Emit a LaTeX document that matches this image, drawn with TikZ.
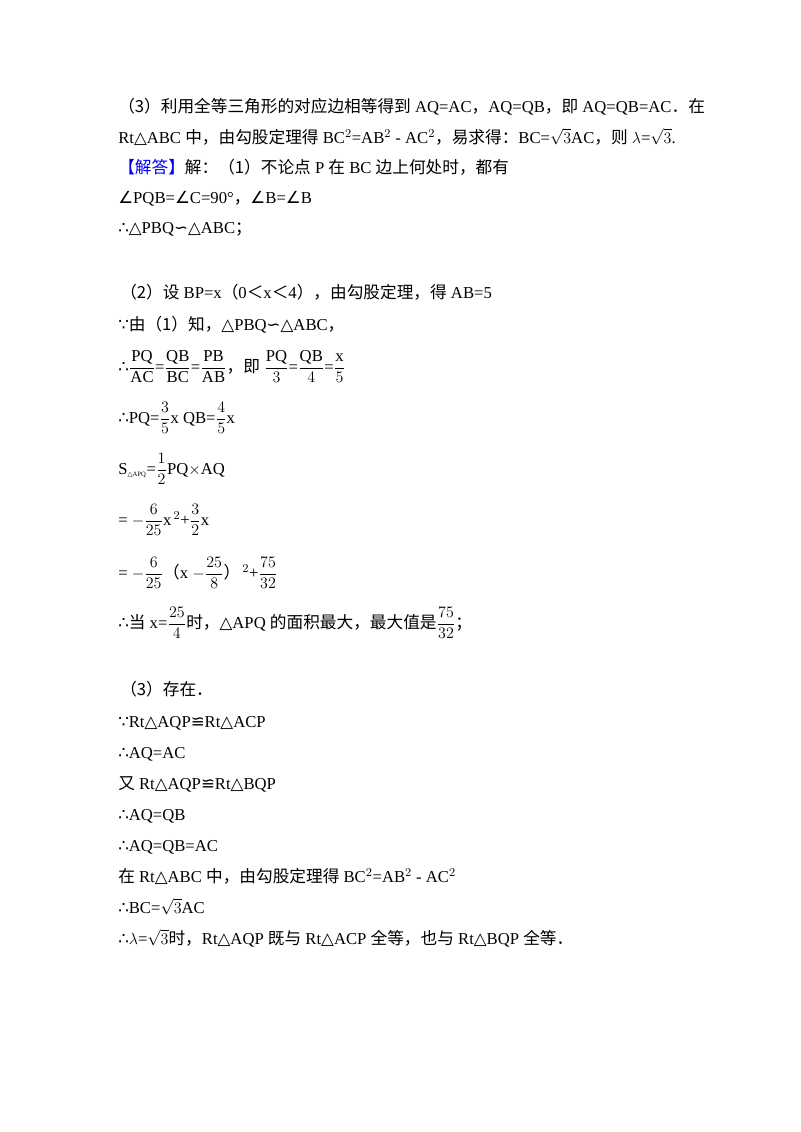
\documentclass[tikz,border=0pt]{standalone}
\usepackage{amsmath,amssymb}
\usepackage{fontspec}
\setmainfont{Liberation Serif}
\newfontfamily\cjk{Noto Sans CJK SC}
\newfontfamily\djv{DejaVu Sans}
\newcommand{\zh}[1]{{\cjk #1}}
\newcommand{\tri}{{\djv △}}
\newcommand{\sima}{{\djv ∽}}
\newcommand{\ang}{{\djv ∠}}
\newcommand{\thf}{{\djv ∴}}
\newcommand{\bec}{{\djv ∵}}
\newcommand{\congr}{{\djv ≌}}
\begin{document}
\begin{tikzpicture}[x=0.75pt,y=-0.75pt,
  ln/.style={anchor=base west,inner sep=0pt,font=\fontsize{12.5}{15}\selectfont}]
\useasboundingbox (0,0) rectangle (800,1132);
\node[ln] (l1) at (118,112) {\zh{（3）利用全等三角形的对应边相等得到} AQ=AC\zh{，}AQ=QB\zh{，即} AQ=QB=AC\zh{．在}};
\node[ln] (l2) at (118,143) {Rt\tri ABC \zh{中，由勾股定理得} BC$^2$=AB$^2$ - AC$^2$\zh{，易求得：}BC=$\sqrt{3}$AC\zh{，则} $\lambda$=$\sqrt{3}$.};
\node[ln] (l3) at (118,173) {\zh{\color{blue}【解答】}\zh{解：（1）不论点} P \zh{在} BC \zh{边上何处时，都有}};
\node[ln] (l4) at (118,203) {\ang PQB=\ang C=90°\zh{，}\ang B=\ang B};
\node[ln] (l5) at (118,233) {\thf\tri PBQ\sima\tri ABC\zh{；}};
\node[ln] (m1) at (120,298) {\zh{（2）设} BP=x\zh{（}0\zh{＜}x\zh{＜}4\zh{），由勾股定理，得} AB=5};
\node[ln] (m2) at (118,330) {\bec\zh{由（1）知，}\tri PBQ\sima\tri ABC\zh{，}};
\node[ln] (m3) at (118,372) {\thf$\dfrac{\mathrm{PQ}}{\mathrm{AC}}$=$\dfrac{\mathrm{QB}}{\mathrm{BC}}$=$\dfrac{\mathrm{PB}}{\mathrm{AB}}$\zh{，即} $\dfrac{\mathrm{PQ}}{3}$=$\dfrac{\mathrm{QB}}{4}$=$\dfrac{\mathrm{x}}{5}$};
\node[ln] (m4) at (118,423) {\thf PQ=$\dfrac{3}{5}$x QB=$\dfrac{4}{5}$x};
\node[ln] (m5) at (118,474) {S$_{\text{\tiny\tri APQ}}$=$\dfrac{1}{2}$PQ$\times$AQ};
\node[ln] (m6) at (118,525) {= $-\dfrac{6}{25}$x$^{\,2}$+$\dfrac{3}{2}$x};
\node[ln] (m7) at (118,578) {= $-\dfrac{6}{25}$\zh{（}x $-\dfrac{25}{8}$\zh{）}$^{\,2}$+$\dfrac{75}{32}$};
\node[ln] (m8) at (118,628) {\thf\zh{当} x=$\dfrac{25}{4}$\zh{时，}\tri APQ \zh{的面积最大，最大值是}$\dfrac{75}{32}$\zh{；}};
\node[ln] (n1) at (120,695) {\zh{（3）存在．}};
\node[ln] (n2) at (118,727) {\bec Rt\tri AQP\congr Rt\tri ACP};
\node[ln] (n3) at (118,758) {\thf AQ=AC};
\node[ln] (n4) at (118,789) {\zh{又} Rt\tri AQP\congr Rt\tri BQP};
\node[ln] (n5) at (118,820) {\thf AQ=QB};
\node[ln] (n6) at (118,851) {\thf AQ=QB=AC};
\node[ln] (n7) at (118,882) {\zh{在} Rt\tri ABC \zh{中，由勾股定理得} BC$^2$=AB$^2$ - AC$^2$};
\node[ln] (n8) at (118,913) {\thf BC=$\sqrt{3}$AC};
\node[ln] (n9) at (118,944) {\thf$\lambda$=$\sqrt{3}$\zh{时，}Rt\tri AQP \zh{既与} Rt\tri ACP \zh{全等，也与} Rt\tri BQP \zh{全等．}};
\end{tikzpicture}
\end{document}
